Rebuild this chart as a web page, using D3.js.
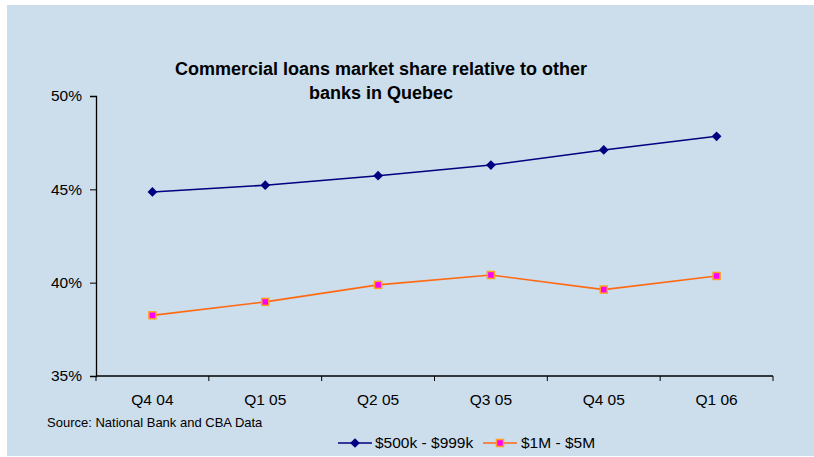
<!DOCTYPE html>
<html>
<head>
<meta charset="utf-8">
<script src="https://cdn.jsdelivr.net/npm/d3@7"></script>
<style>
  html, body { margin: 0; padding: 0; background: #ffffff; }
  svg { display: block; font-family: Arial, "Liberation Sans", sans-serif; }
</style>
</head>
<body>
<svg id="chart" width="814" height="457"></svg>
<script>
// Quarters shown on the horizontal axis
const quarters = ["Q4 04", "Q1 05", "Q2 05", "Q3 05", "Q4 05", "Q1 06"];
// Market share (%) by loan size
const share500kTo999k = [44.86, 45.22, 45.73, 46.30, 47.11, 47.84];
const share1MTo5M = [38.25, 38.97, 39.88, 40.41, 39.63, 40.36];
const seriesNames = ["$500k - $999k", "$1M - $5M"];
const yTicks = [35, 40, 45, 50];

const svg = d3.select("#chart");

// Panel background
svg.append("rect")
  .attr("x", 7).attr("y", 5)
  .attr("width", 807).attr("height", 451)
  .attr("fill", "#ccddec");

const plot = { left: 96, right: 773, top: 96, bottom: 376 };

const x = d3.scaleBand().domain(quarters).range([plot.left, plot.right]);
const y = d3.scaleLinear().domain([35, 50]).range([plot.bottom, plot.top]);

// Title
const title = svg.append("text")
  .attr("x", 381).attr("y", 75)
  .attr("text-anchor", "middle")
  .attr("font-size", 18).attr("font-weight", "bold").attr("fill", "#000");
title.append("tspan").attr("x", 381).attr("y", 75)
  .text("Commercial loans market share relative to other");
title.append("tspan").attr("x", 381).attr("y", 99)
  .text("banks in Quebec");

// Y axis
const yAxis = svg.append("g")
  .attr("transform", `translate(${plot.left},0)`)
  .call(d3.axisLeft(y).tickValues(yTicks).tickSize(6).tickPadding(8)
    .tickFormat(d => d + "%"));
yAxis.select(".domain").attr("stroke", "#000").attr("stroke-width", 1.3);
yAxis.selectAll(".tick line").attr("stroke", "#000");
yAxis.selectAll("text").attr("font-size", 15.5).attr("fill", "#000")
  .attr("font-family", "Arial, 'Liberation Sans', sans-serif");

// X axis: ticks on category boundaries
const xAxis = svg.append("g")
  .attr("transform", `translate(0,${plot.bottom})`);
xAxis.append("line")
  .attr("x1", plot.left).attr("x2", plot.right)
  .attr("stroke", "#000").attr("stroke-width", 1.3);
const boundaries = quarters.map(q => x(q)).concat([x(quarters[quarters.length - 1]) + x.bandwidth()]);
xAxis.selectAll("line.tk").data(boundaries).join("line")
  .attr("class", "tk")
  .attr("x1", d => d).attr("x2", d => d)
  .attr("y1", 0).attr("y2", 5)
  .attr("stroke", "#000");
xAxis.selectAll("text").data(quarters).join("text")
  .attr("x", d => x(d) + x.bandwidth() / 2)
  .attr("y", 29)
  .attr("text-anchor", "middle")
  .attr("font-size", 15.5).attr("fill", "#000")
  .text(d => d);

const cx = (d, i) => x(quarters[i]) + x.bandwidth() / 2;
const line = d3.line().x(cx).y(d => y(d));

// $500k - $999k series
svg.append("path").datum(share500kTo999k)
  .attr("d", line).attr("fill", "none")
  .attr("stroke", "#000080").attr("stroke-width", 1.6);
const diamond = d3.symbol().type(d3.symbolDiamond2).size(50);
svg.selectAll("path.dm").data(share500kTo999k).join("path")
  .attr("class", "dm")
  .attr("transform", (d, i) => `translate(${cx(d, i)},${y(d)}) scale(1.1,1.1)`)
  .attr("d", diamond).attr("fill", "#000080");

// $1M - $5M series
svg.append("path").datum(share1MTo5M)
  .attr("d", line).attr("fill", "none")
  .attr("stroke", "#ff6a13").attr("stroke-width", 1.6);
svg.selectAll("rect.sq").data(share1MTo5M).join("rect")
  .attr("class", "sq")
  .attr("x", (d, i) => cx(d, i) - 3.5).attr("y", d => y(d) - 3.5)
  .attr("width", 7).attr("height", 7)
  .attr("fill", "#ff00ff").attr("stroke", "#ffa020").attr("stroke-width", 1.5);

// Source note
svg.append("text")
  .attr("x", 47).attr("y", 427)
  .attr("font-size", 13).attr("fill", "#000")
  .text("Source: National Bank and CBA Data");

// Legend
const legY = 443;
const leg1 = svg.append("g");
leg1.append("line").attr("x1", 338).attr("x2", 372).attr("y1", legY).attr("y2", legY)
  .attr("stroke", "#000080").attr("stroke-width", 1.6);
leg1.append("path").attr("transform", `translate(355,${legY}) scale(1.1,1.1)`)
  .attr("d", diamond).attr("fill", "#000080");
leg1.append("text").attr("x", 375).attr("y", legY + 5)
  .attr("font-size", 15.5).attr("fill", "#000").text(seriesNames[0]);

const leg2 = svg.append("g");
leg2.append("line").attr("x1", 483).attr("x2", 517).attr("y1", legY).attr("y2", legY)
  .attr("stroke", "#ff6a13").attr("stroke-width", 1.6);
leg2.append("rect").attr("x", 496.5).attr("y", legY - 3.5).attr("width", 7).attr("height", 7)
  .attr("fill", "#ff00ff").attr("stroke", "#ffa020").attr("stroke-width", 1.5);
leg2.append("text").attr("x", 521).attr("y", legY + 5)
  .attr("font-size", 15.5).attr("fill", "#000").text(seriesNames[1]);
</script>
</body>
</html>
